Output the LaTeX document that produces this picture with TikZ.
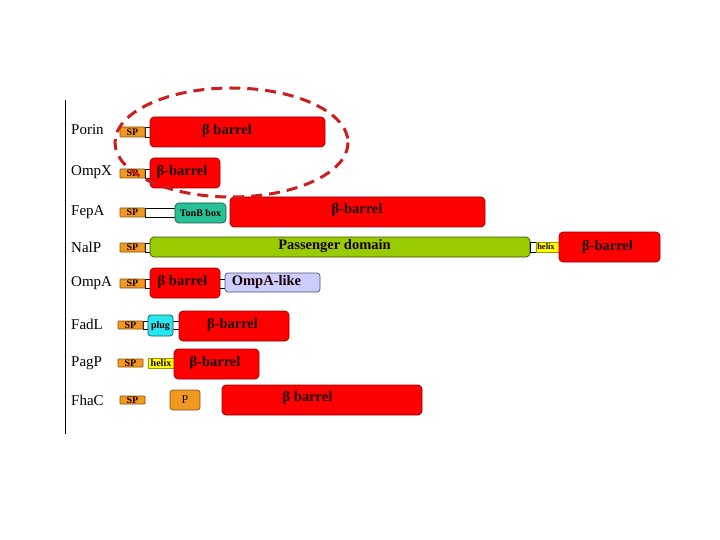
\documentclass[tikz,border=0pt]{standalone}
\usepackage{fontspec}
\setmainfont{Liberation Serif}
\definecolor{spor}{RGB}{240,152,32}
\definecolor{spbd}{RGB}{140,80,10}
\definecolor{bred}{RGB}{255,0,0}
\definecolor{bredbd}{RGB}{150,0,0}
\definecolor{pgreen}{RGB}{153,204,0}
\definecolor{pgreenbd}{RGB}{60,80,0}
\definecolor{tonb}{RGB}{40,192,150}
\definecolor{tonbbd}{RGB}{20,90,70}
\definecolor{plugc}{RGB}{40,230,240}
\definecolor{plugbd}{RGB}{20,90,100}
\definecolor{lav}{RGB}{204,204,255}
\definecolor{lavbd}{RGB}{80,80,110}
\definecolor{hel}{RGB}{255,255,0}
\definecolor{ellc}{RGB}{204,30,30}
\definecolor{txtc}{RGB}{25,0,0}
\newcommand\protbox[6][]{%
  \node[#1, minimum width={(#4-#3)*1pt}, minimum height={(#6-#5)*1pt}]
    (#2) at ({(#3+#4)/2},{(#5+#6)/2}) {};}
\tikzset{
  dombox/.style={draw, rectangle, inner sep=0pt, line width=0.7pt},
  barrel/.style={dombox, fill=bred, draw=bredbd, rounded corners=4pt},
  spbox/.style={dombox, fill=spor, draw=spbd, rounded corners=0.5pt},
  pbox/.style={dombox, fill=spor, draw=spbd, rounded corners=3pt},
  passbox/.style={dombox, fill=pgreen, draw=pgreenbd, rounded corners=4pt},
  tonbbox/.style={dombox, fill=tonb, draw=tonbbd, rounded corners=4pt},
  plugbox/.style={dombox, fill=plugc, draw=plugbd, rounded corners=3pt},
  lavbox/.style={dombox, fill=lav, draw=lavbd, rounded corners=3pt},
  helbox/.style={dombox, fill=hel, draw=hel!60!black, line width=0.4pt},
  linkbox/.style={dombox, fill=white, draw=black, line width=0.6pt},
  rowlab/.style={anchor=west, inner sep=0pt, font=\fontsize{15}{16}\selectfont, text=black},
  bigtxt/.style={inner sep=0pt, font=\fontsize{14.5}{16}\selectfont\bfseries, text=txtc},
  smalltxt/.style={inner sep=0pt, font=\fontsize{10}{11}\selectfont\bfseries, text=txtc},
  tinytxt/.style={inner sep=0pt, font=\fontsize{8.5}{9}\selectfont\bfseries, text=txtc},
}
\begin{document}
\begin{tikzpicture}[x=1pt,y=-1pt]
\useasboundingbox[fill=white] (0,0) rectangle (720,540);
% axis
\coordinate (axtop) at (65,100);
\coordinate (axbot) at (65,434);
\draw[line width=1pt] (axtop) -- (axbot);
% row labels
\node[rowlab] (lPorin) at (71,130) {Porin};
\node[rowlab] (lOmpX) at (71,172) {OmpX};
\node[rowlab] (lFepA) at (71,212) {FepA};
\node[rowlab] (lNalP) at (71,247) {NalP};
\node[rowlab] (lOmpA) at (71,283) {OmpA};
\node[rowlab] (lFadL) at (71,324) {FadL};
\node[rowlab] (lPagP) at (71,363) {PagP};
\node[rowlab] (lFhaC) at (71,400) {FhaC};
% Porin
\protbox[linkbox]{pL}{145}{151}{127}{137}
\protbox[spbox]{pSP}{120}{145}{127}{137}
\protbox[barrel]{pB}{150}{325}{117}{147}
\node[smalltxt] (pSPt) at (pSP) {SP};
\node[bigtxt] (pBt) at (227,131) {β barrel};
% OmpX
\protbox[linkbox]{xL}{145}{151}{169}{178}
\protbox[spbox]{xSP}{120}{145}{169}{178}
\protbox[barrel]{xB}{150}{220}{158}{188}
\node[smalltxt] (xSPt) at (xSP) {SP};
\node[bigtxt] (xBt) at (182,172) {β-barrel};
% FepA
\protbox[linkbox]{fL}{145}{176}{208}{217}
\protbox[spbox]{fSP}{120}{145}{208}{217}
\protbox[tonbbox]{fT}{175}{226}{203}{223}
\protbox[barrel]{fB}{230}{485}{197}{227}
\node[smalltxt] (fSPt) at (fSP) {SP};
\node[smalltxt] (fTt) at (fT) {TonB box};
\node[bigtxt] (fBt) at (357,210) {β-barrel};
% NalP
\protbox[linkbox]{nL}{145}{151}{243}{252}
\protbox[spbox]{nSP}{120}{145}{243}{252}
\protbox[passbox]{nP}{150}{530}{237}{257}
\protbox[linkbox]{nL2}{530}{536}{242}{252}
\protbox[helbox]{nH}{536}{559}{242}{252}
\protbox[barrel]{nB}{559}{660}{232}{262}
\node[smalltxt] (nSPt) at (nSP) {SP};
\node[bigtxt] (nPt) at (334.5,246) {Passenger domain};
\node[tinytxt] (nHt) at (546,246.5) {helix};
\node[bigtxt] (nBt) at (607.5,247) {β-barrel};
% OmpA
\protbox[linkbox]{aL}{145}{151}{279}{288}
\protbox[spbox]{aSP}{120}{145}{279}{288}
\protbox[linkbox]{aL2}{219}{226}{279}{288}
\protbox[barrel]{aB}{150}{220}{268}{298}
\protbox[lavbox]{aO}{225}{320}{273}{292}
\node[smalltxt] (aSPt) at (aSP) {SP};
\node[bigtxt] (aBt) at (182.5,282) {β barrel};
\node[bigtxt] (aOt) at (266.5,282) {OmpA-like};
% FadL
\protbox[linkbox]{dL}{143}{149}{321}{329}
\protbox[linkbox]{dL2}{172}{180}{321}{329}
\protbox[spbox]{dSP}{118}{143}{321}{329}
\protbox[plugbox]{dPl}{148}{173}{315}{336}
\protbox[barrel]{dB}{179}{289}{311}{341}
\node[smalltxt] (dSPt) at (dSP) {SP};
\node[smalltxt] (dPlt) at (160.5,326) {plug};
\node[bigtxt] (dBt) at (232.5,325) {β-barrel};
% PagP
\protbox[spbox]{gSP}{118}{143}{359}{367}
\protbox[helbox]{gH}{148}{175}{358}{368}
\protbox[barrel]{gB}{174}{259}{349}{379}
\node[smalltxt] (gSPt) at (gSP) {SP};
\node[smalltxt] (gHt) at (161,363.5) {helix};
\node[bigtxt] (gBt) at (215,363) {β-barrel};
% FhaC
\protbox[spbox]{hSP}{120}{145}{396}{404}
\protbox[pbox]{hP}{170}{200}{390}{410}
\protbox[barrel]{hB}{222}{422}{385}{415}
\node[smalltxt] (hSPt) at (hSP) {SP};
\node[inner sep=0pt, font=\fontsize{12}{13}\selectfont, text=txtc] (hPt) at (hP) {P};
\node[bigtxt] (hBt) at (307.5,398) {β barrel};
% dashed ellipse
\draw[ellc, line width=3pt, dash pattern=on 11pt off 7pt] (231.5,142.5) ellipse [x radius=116.5, y radius=54.5];
\end{tikzpicture}
\end{document}
